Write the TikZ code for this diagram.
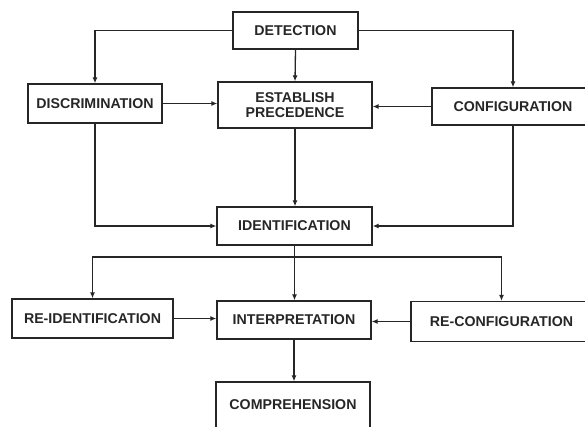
\documentclass[tikz,border=0pt]{standalone}
\usepackage{fontspec}
\setmainfont{Liberation Sans}
\usetikzlibrary{arrows.meta}
\begin{document}
\begin{tikzpicture}[x=1pt,y=-1pt,
  stage/.style={draw=black!85, line width=1.3pt, rectangle, inner sep=0pt,
    align=center, font=\fontsize{14.2}{15.5}\selectfont\bfseries, text=black!85},
  flow/.style={draw=black!85, line width=1.3pt, -{Latex[length=6pt,width=5pt]}}
]
\useasboundingbox (0,0) rectangle (585,426);

% stages
\node[stage, minimum width=125pt, minimum height=37pt] (det) at (295.5,30.5) {DETECTION};
\node[stage, minimum width=134pt, minimum height=39pt] (disc) at (95,103.5) {DISCRIMINATION};
\node[stage, minimum width=154pt, minimum height=46pt] (est) at (295,105) {ESTABLISH\\PRECEDENCE};
\node[stage, minimum width=162pt, minimum height=37pt] (conf) at (513,106.5) {CONFIGURATION};
\node[stage, minimum width=155pt, minimum height=38pt] (iden) at (294.5,226) {IDENTIFICATION};
\node[stage, minimum width=161pt, minimum height=39pt] (reid) at (92.5,318.5) {RE-IDENTIFICATION};
\node[stage, minimum width=154pt, minimum height=38pt] (interp) at (294,320) {INTERPRETATION};
\node[stage, minimum width=181pt, minimum height=40pt] (reconf) at (501.5,321.5) {RE-CONFIGURATION};
\node[stage, minimum width=154pt, minimum height=46pt] (comp) at (293,405) {COMPREHENSION};

% detection fans out
\draw[flow] (det.west) -| (disc.north);
\draw[flow] (det.east) -| (conf.north);
\draw[flow] (det.south) -- (est.north);

% into precedence
\draw[flow] (disc.east) -- (disc.east -| est.west);
\draw[flow] (conf.west) -- (conf.west -| est.east);

% into identification
\draw[flow] (disc.south) |- (iden.west);
\draw[flow] (est.south) -- (est.south |- iden.north);
\draw[flow] (conf.south) |- (iden.east);

% identification branches
\coordinate (split) at (iden.south |- 0,257);
\draw[flow] (iden.south) -- (iden.south |- interp.north);
\draw[flow] (split) -| (reid.north);
\draw[flow] (split) -| (reconf.north);

% into interpretation and on to comprehension
\draw[flow] (reid.east) -- (reid.east -| interp.west);
\draw[flow] (reconf.west) -- (reconf.west -| interp.east);
\draw[flow] (interp.south) -- (interp.south |- comp.north);
\end{tikzpicture}
\end{document}
